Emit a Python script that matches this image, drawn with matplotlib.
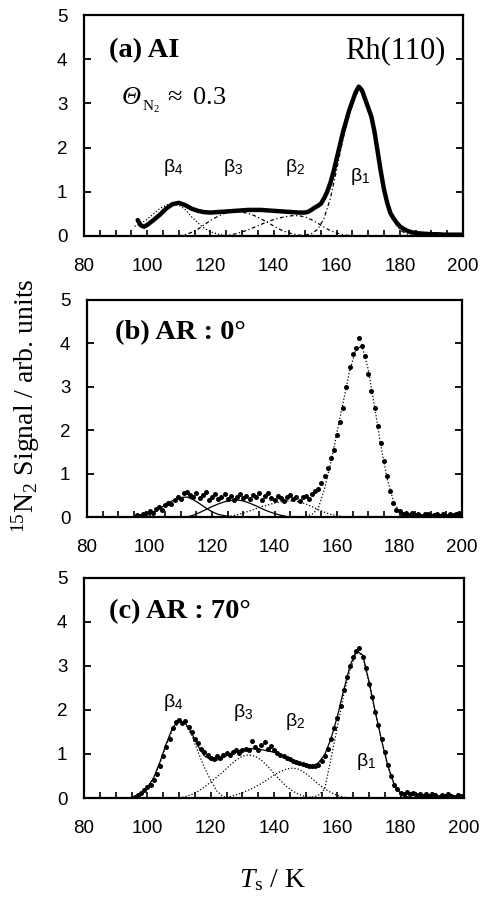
"""
TPD spectra of 15N2 from Rh(110): AI / AR 0 deg / AR 70 deg
"""
import matplotlib
matplotlib.use('Agg')
import matplotlib.pyplot as plt
import numpy as np
from matplotlib.ticker import MultipleLocator

plt.rcParams['font.family'] = ['Liberation Sans', 'DejaVu Sans']
plt.rcParams['mathtext.fontset'] = 'custom'
plt.rcParams['mathtext.rm'] = 'Liberation Serif'
plt.rcParams['mathtext.it'] = 'Liberation Serif:italic'
plt.rcParams['mathtext.sf'] = 'Liberation Sans'

# ---- panel (a) AI : dense trace + component fits ----
t_a = ([97, 98, 99, 100] + list(range(102, 149, 2)) + list(range(150, 185))
       + list(range(186, 201, 2)))
sig_a = [0.36, 0.24, 0.21, 0.25,
         0.36, 0.48, 0.62, 0.72, 0.75, 0.7, 0.62, 0.57, 0.54, 0.53,
         0.54, 0.55, 0.56, 0.57, 0.58, 0.59, 0.59, 0.59, 0.58, 0.57,
         0.56, 0.55, 0.54, 0.53,
         0.53, 0.55, 0.59, 0.64, 0.68, 0.73, 0.85, 1.0, 1.2, 1.45,
         1.75, 2.05, 2.35, 2.6, 2.85, 3.05, 3.25, 3.38, 3.3, 3.1,
         2.9, 2.7, 2.35, 1.9, 1.45, 1.05, 0.75, 0.52, 0.4, 0.3,
         0.22, 0.17, 0.13, 0.1, 0.08,
         0.06, 0.05, 0.04, 0.04, 0.03, 0.03, 0.03, 0.03]
b4_a_t = list(range(96, 127, 2))
b4_a = [0.22, 0.28, 0.38, 0.5, 0.62, 0.7, 0.73, 0.7, 0.6, 0.44, 0.3, 0.18, 0.1, 0.05, 0.02, 0.0]
b3_a_t = list(range(110, 153, 2))
b3_a = [0.0, 0.03, 0.08, 0.15, 0.25, 0.35, 0.43, 0.5, 0.54, 0.55, 0.54, 0.51,
        0.46, 0.39, 0.31, 0.23, 0.15, 0.09, 0.05, 0.02, 0.01, 0.0]
b2_a_t = list(range(124, 165, 2))
b2_a = [0.0, 0.02, 0.05, 0.09, 0.14, 0.2, 0.26, 0.32, 0.37, 0.41, 0.44,
        0.46, 0.46, 0.43, 0.37, 0.29, 0.2, 0.12, 0.07, 0.03, 0.01]
b1_a_t = list(range(150, 185, 2))
b1_a = [0.02, 0.05, 0.15, 0.4, 0.85, 1.5, 2.2, 2.75, 3.2, 3.3, 2.9, 2.35, 1.45, 0.75, 0.35, 0.14, 0.05, 0.01]

# ---- panel (b) AR : 0 deg ----
t_b = list(range(96, 201))
sig_b = [0.04, 0.02, 0.07, 0.1, 0.14, 0.09, 0.18, 0.22, 0.17, 0.27,
         0.33, 0.3, 0.4, 0.45, 0.42, 0.55, 0.58, 0.5, 0.46, 0.55,
         0.43, 0.5, 0.58, 0.4, 0.47, 0.53, 0.41, 0.46, 0.52, 0.42,
         0.49, 0.4, 0.47, 0.53, 0.44, 0.48, 0.41, 0.51, 0.46, 0.55,
         0.4, 0.49, 0.56, 0.44, 0.39, 0.48, 0.43, 0.37, 0.46, 0.51,
         0.41, 0.47, 0.38, 0.45, 0.48, 0.42, 0.52, 0.6, 0.64, 0.78,
         0.95, 1.12, 1.35, 1.55, 1.9, 2.2, 2.5, 3.0, 3.45, 3.75,
         3.9, 4.12, 3.95, 3.7, 3.3, 2.9, 2.5, 2.1, 1.7, 1.3,
         0.95, 0.6, 0.32, 0.15, 0.14, 0.08, 0.1, 0.05, 0.09, 0.04,
         0.07, 0.03, 0.06, 0.08, 0.02, 0.05, 0.07, 0.03, 0.06, 0.02,
         0.08, 0.04, 0.06, 0.09, 0.03]
b4_b_t = list(range(98, 127, 2))
b4_b = [0.03, 0.07, 0.14, 0.23, 0.32, 0.4, 0.45, 0.46, 0.4, 0.31, 0.21, 0.12, 0.06, 0.03, 0.01]
b3_b_t = list(range(112, 147, 2))
b3_b = [0.0, 0.04, 0.1, 0.17, 0.24, 0.3, 0.35, 0.38, 0.39, 0.37, 0.32, 0.26,
        0.19, 0.13, 0.08, 0.04, 0.01, 0.0]
b2_b_t = list(range(126, 163, 2))
b2_b = [0.02, 0.05, 0.09, 0.14, 0.19, 0.24, 0.28, 0.32, 0.35, 0.37, 0.37,
        0.35, 0.3, 0.24, 0.17, 0.11, 0.06, 0.03, 0.01]
b1_b_t = list(range(150, 183, 2))
b1_b = [0.02, 0.06, 0.2, 0.65, 1.25, 1.95, 2.65, 3.35, 3.85, 3.95, 3.4, 2.55, 1.65, 0.9, 0.38, 0.12, 0.03]

# ---- panel (c) AR : 70 deg ----
t_c = list(range(95, 201))
sig_c = [0.0, 0.03, 0.06, 0.12, 0.18, 0.24, 0.3, 0.42, 0.55, 0.72,
         0.95, 1.15, 1.35, 1.6, 1.72, 1.78, 1.7, 1.74, 1.62, 1.5,
         1.35, 1.25, 1.12, 1.05, 0.98, 0.92, 0.88, 0.95, 0.9, 0.98,
         1.02, 0.97, 1.05, 1.08, 1.03, 1.1, 1.12, 1.08, 1.3, 1.15,
         1.1, 1.2, 1.28, 1.12, 1.18, 1.08, 1.02, 0.98, 0.95, 0.9,
         0.88, 0.85, 0.82, 0.8, 0.78, 0.76, 0.72, 0.72, 0.72, 0.75,
         0.85, 0.95, 1.12, 1.35, 1.58, 1.82, 2.1, 2.45, 2.75, 3.0,
         3.2, 3.35, 3.42, 3.2, 2.95, 2.6, 2.3, 1.95, 1.65, 1.35,
         1.05, 0.75, 0.5, 0.3, 0.2, 0.12, 0.1, 0.14, 0.08, 0.11,
         0.06, 0.09, 0.05, 0.08, 0.04, 0.1, 0.06, 0.03, 0.07, 0.04,
         0.08, 0.05, 0.03, 0.07, 0.05, 0.04]
fit_c_t = list(range(96, 185, 2))
fit_c = [0.03, 0.1, 0.24, 0.46, 0.82, 1.24, 1.6, 1.76, 1.7, 1.48,
         1.18, 0.96, 0.87, 0.86, 0.92, 1.0, 1.06, 1.1, 1.12, 1.12,
         1.1, 1.07, 1.04, 0.98, 0.9, 0.84, 0.77, 0.72, 0.72, 0.8,
         0.98, 1.35, 1.85, 2.45, 3.0, 3.35, 3.25, 2.65, 1.95, 1.3,
         0.72, 0.3, 0.1, 0.03, 0.0]
b4_c_t = list(range(96, 127, 2))
b4_c = [0.03, 0.1, 0.24, 0.45, 0.8, 1.2, 1.55, 1.72, 1.68, 1.42, 1.05, 0.7, 0.4, 0.15, 0.03, 0.0]
b3_c_t = list(range(110, 153, 2))
b3_c = [0.0, 0.03, 0.08, 0.15, 0.25, 0.36, 0.48, 0.6, 0.74, 0.86, 0.95,
        0.98, 0.95, 0.86, 0.72, 0.56, 0.4, 0.26, 0.15, 0.08, 0.03, 0.01]
b2_c_t = list(range(124, 165, 2))
b2_c = [0.0, 0.03, 0.07, 0.12, 0.18, 0.25, 0.33, 0.42, 0.52, 0.6, 0.66,
        0.68, 0.65, 0.56, 0.44, 0.32, 0.21, 0.12, 0.06, 0.02, 0.0]
b1_c_t = list(range(152, 183, 2))
b1_c = [0.02, 0.06, 0.2, 0.9, 1.6, 2.35, 2.9, 3.3, 3.25, 2.6, 1.95, 1.3, 0.7, 0.3, 0.1, 0.02]

W, H = 484, 897
fig = plt.figure(figsize=(W / 100, H / 100), dpi=100)


def px_axes(left, top, right, bottom):
    return fig.add_axes([left / W, 1 - bottom / H, (right - left) / W, (bottom - top) / H])


def style(ax):
    ax.set_xlim(80, 200)
    ax.set_ylim(0, 5)
    ax.xaxis.set_major_locator(MultipleLocator(20))
    ax.xaxis.set_minor_locator(MultipleLocator(5))
    ax.yaxis.set_major_locator(MultipleLocator(1))
    ax.tick_params(axis='x', which='both', direction='in', length=4, width=1.2,
                   top=False, pad=16, labelsize=13.5)
    ax.tick_params(axis='y', which='both', direction='in', length=5, width=1.3,
                   right=True, pad=12, labelsize=13.5)
    for s in ax.spines.values():
        s.set_linewidth(1.6)


dot = dict(color='black', lw=0.9, ls=(0, (1, 1.6)))
dash = dict(color='black', lw=0.9, ls=(0, (3, 2, 1, 2)))
beta_kw = dict(fontsize=14, ha='center', va='center')
title_kw = dict(fontsize=20.5, fontweight='bold', family='Liberation Serif', va='center')

# (a)
ax = px_axes(84, 15, 463, 236)
style(ax)
ax.plot(t_a, sig_a, color='black', lw=3.2, solid_capstyle='round', solid_joinstyle='round')
ax.plot(b4_a_t, b4_a, **dot)
ax.plot(b3_a_t, b3_a, **dash)
ax.plot(b2_a_t, b2_a, **dash)
ax.plot(b1_a_t, b1_a, **dash)
ax.text(88.0, 4.2, '(a) AI', **title_kw)
ax.text(194.5, 4.2, 'Rh(110)', fontsize=22, family='Liberation Serif', ha='right', va='center')
theta = ax.text(92, 3.12, 'Θ', fontsize=19, family='Liberation Serif', style='italic',
                va='center')
sub = ax.annotate('N$_2$', xy=(1, 0.12), xycoords=theta, xytext=(0.5, 0),
                  textcoords='offset points', fontsize=11, family='Liberation Serif',
                  va='center')
ax.annotate(r'$\approx$ 0.3', xy=(1, 0.5), xycoords=(sub, theta), xytext=(3, 0),
            textcoords='offset points', fontsize=19, family='Liberation Serif',
            va='center')
ax.text(108.2, 1.54, r'β$_\mathsf{4}$', **beta_kw)
ax.text(127.2, 1.54, r'β$_\mathsf{3}$', **beta_kw)
ax.text(146.8, 1.54, r'β$_\mathsf{2}$', **beta_kw)
ax.text(167.3, 1.34, r'β$_\mathsf{1}$', **beta_kw)

# (b)
ax = px_axes(87, 300, 462, 517)
style(ax)
ax.plot(t_b, sig_b, 'o', color='black', ms=3.6, mew=0)
ax.plot(b4_b_t, b4_b, color='black', lw=0.9)
ax.plot(b3_b_t, b3_b, color='black', lw=0.9)
ax.plot(b2_b_t, b2_b, **dot)
ax.plot(b1_b_t, b1_b, **dot)
ax.text(89.0, 4.24, '(b) AR : 0°', **title_kw)

# (c)
ax = px_axes(84, 578, 464, 798)
style(ax)
ax.plot(t_c, sig_c, 'o', color='black', ms=3.6, mew=0)
ax.plot(fit_c_t, fit_c, color='black', lw=0.9)
ax.plot(b4_c_t, b4_c, **dot)
ax.plot(b3_c_t, b3_c, **dot)
ax.plot(b2_c_t, b2_c, **dot)
ax.plot(b1_c_t, b1_c, **dot)
ax.text(88.0, 4.23, '(c) AR : 70°', **title_kw)
ax.text(108.2, 2.18, r'β$_\mathsf{4}$', **beta_kw)
ax.text(130.3, 1.95, r'β$_\mathsf{3}$', **beta_kw)
ax.text(146.8, 1.73, r'β$_\mathsf{2}$', **beta_kw)
ax.text(169.0, 0.82, r'β$_\mathsf{1}$', **beta_kw)

fig.text(0.054, 1 - 406 / H, r'$^{15}$N$_2$ Signal / arb. units', rotation=90,
         fontsize=20, family='Liberation Serif', ha='center', va='center')
fig.text(272 / W, 1 - 880 / H, r'$T_{\mathrm{s}}$ / K', fontsize=20,
         family='Liberation Serif', ha='center', va='center')

fig.savefig('out.png', dpi=100, facecolor='white')
